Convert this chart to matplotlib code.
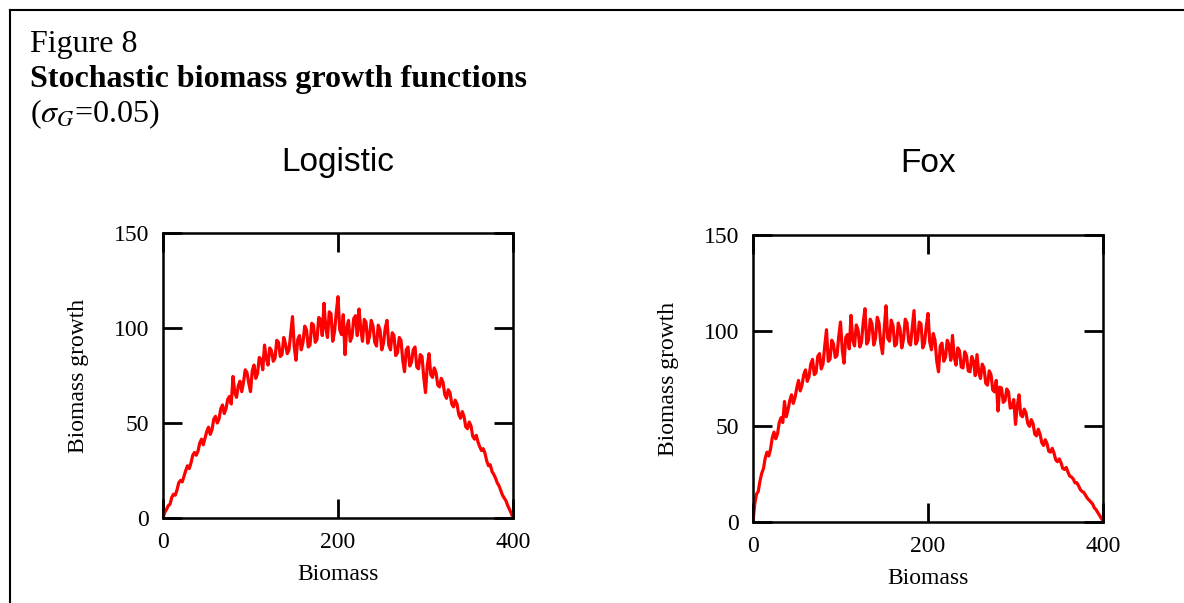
import matplotlib
matplotlib.use('Agg')
import matplotlib.pyplot as plt
import numpy as np

plt.rcParams['font.family'] = 'Liberation Serif'
plt.rcParams['mathtext.fontset'] = 'stix'

# biomass values (x axis), every 2 units
biomass = np.arange(0, 402, 2)

logistic_growth = [
    0.0, 3.0, 4.5, 6.5, 7.2, 10.8, 12.5, 12.0, 14.8, 18.5,
    19.8, 19.0, 22.0, 25.0, 27.5, 26.0, 29.0, 33.0, 34.5, 33.0,
    35.2, 39.5, 41.5, 38.5, 42.0, 45.5, 47.8, 44.0, 46.5, 52.0,
    53.5, 50.0, 52.0, 57.5, 59.5, 55.0, 57.5, 62.5, 64.0, 60.0,
    74.5, 66.0, 63.5, 69.5, 72.0, 66.5, 71.5, 78.0, 76.5, 71.0,
    66.5, 77.5, 80.5, 73.5, 76.0, 84.5, 83.5, 78.0, 91.0, 84.0,
    80.5, 89.5, 88.0, 82.5, 84.0, 93.5, 92.5, 85.0, 86.0, 95.0,
    91.5, 86.5, 88.5, 97.5, 106.0, 90.0, 83.0, 94.0, 96.0, 88.5,
    92.5, 101.0, 99.0, 90.0, 91.0, 102.5, 101.5, 92.5, 94.0, 105.5,
    104.5, 96.0, 113.0, 100.0, 95.0, 108.5, 107.5, 93.0, 98.0, 108.0,
    116.5, 99.0, 96.5, 107.0, 86.0, 100.0, 104.0, 93.0, 95.5, 105.0,
    106.5, 96.0, 110.0, 99.5, 93.0, 104.5, 103.0, 92.0, 95.5, 104.0,
    101.0, 92.5, 90.5, 101.5, 99.0, 88.5, 92.0, 100.0, 104.0, 91.0,
    88.5, 97.5, 96.0, 85.5, 87.0, 95.0, 93.5, 83.0, 77.0, 88.5,
    90.0, 80.0, 82.0, 88.5, 90.0, 79.5, 78.5, 86.0, 85.0, 74.0,
    66.0, 80.0, 86.5, 75.5, 74.0, 79.0, 76.5, 70.0, 69.0, 73.5,
    71.5, 65.0, 63.0, 67.5, 66.0, 60.0, 58.5, 62.0, 60.0, 54.5,
    52.5, 56.0, 53.5, 48.0, 47.0, 50.5, 48.5, 43.0, 41.5, 43.5,
    40.0, 37.5, 35.5, 36.5, 34.0, 30.0, 27.5, 28.0, 24.5, 23.0,
    21.0, 18.5, 17.0, 14.5, 12.0, 10.5, 9.0, 6.5, 4.5, 2.5,
    0.0,
]

fox_growth = [
    0.0, 9.5, 14.5, 16.0, 21.5, 25.5, 28.0, 33.5, 36.5, 34.5,
    38.0, 44.0, 47.0, 43.5, 46.0, 52.0, 54.5, 52.0, 63.0, 55.0,
    58.5, 63.5, 66.5, 62.0, 65.0, 70.0, 74.0, 68.5, 71.5, 77.0,
    79.5, 73.5, 76.0, 82.5, 85.0, 77.0, 78.0, 86.5, 88.0, 80.0,
    82.5, 92.0, 100.5, 84.0, 85.0, 95.0, 93.0, 86.0, 87.0, 97.0,
    104.5, 90.0, 83.0, 96.5, 98.0, 90.5, 108.0, 95.0, 92.0, 103.0,
    100.5, 91.5, 94.0, 104.5, 111.5, 93.0, 95.0, 106.0, 103.5, 92.5,
    96.0, 107.0, 104.0, 93.5, 88.0, 101.0, 113.0, 96.0, 94.5, 105.5,
    102.5, 92.0, 93.0, 104.0, 101.0, 91.0, 95.5, 106.0, 104.0, 94.0,
    92.5, 101.5, 110.5, 93.0, 95.0, 104.5, 103.5, 91.0, 93.5, 102.0,
    109.0, 94.0, 90.0, 98.5, 95.0, 84.0, 78.5, 92.0, 93.5, 84.0,
    86.0, 95.0, 92.5, 84.5, 97.5, 86.0, 82.0, 91.0, 89.5, 81.0,
    80.5, 89.0, 87.0, 79.0, 78.5, 86.5, 84.0, 76.5, 87.5, 78.0,
    75.0, 82.5, 80.5, 72.5, 71.5, 79.0, 77.0, 69.0, 68.0, 74.0,
    58.0, 70.5, 70.0, 62.5, 63.5, 69.5, 68.0, 59.5, 60.0, 64.0,
    51.0, 60.5, 66.5, 56.0, 55.0, 59.0, 57.0, 51.5, 50.0, 53.5,
    51.5, 46.0, 45.0, 48.5, 46.0, 41.5, 40.0, 43.0, 41.0, 37.0,
    36.5, 38.5, 36.0, 32.5, 31.5, 33.0, 31.0, 28.0, 27.5, 28.5,
    26.0, 24.0, 23.5, 22.5, 20.5, 20.5, 19.0, 17.0, 16.0, 15.5,
    14.0, 12.5, 11.5, 10.5, 9.5, 7.5, 6.5, 5.0, 3.5, 2.0,
    0.5,
]

panel_titles = ['Logistic', 'Fox']

fig = plt.figure(figsize=(11.84, 6.03), dpi=100)

# frame lines on left and top of the page
fig.add_artist(plt.Line2D([10 / 1184, 10 / 1184], [0, 1 - 10 / 603], color='black', lw=1.5))
fig.add_artist(plt.Line2D([10 / 1184, 1], [1 - 10 / 603, 1 - 10 / 603], color='black', lw=1.5))

fig.text(30 / 1184, 1 - 52 / 603, 'Figure 8', fontsize=23, va='baseline')
fig.text(30 / 1184, 1 - 87 / 603, 'Stochastic biomass growth functions', fontsize=23,
         fontweight='bold', va='baseline')
fig.text(30 / 1184, 1 - 122 / 603, r'($\sigma_G$=0.05)', fontsize=23, va='baseline')

ax1 = fig.add_axes([163 / 1184, 85 / 603, 350 / 1184, 285 / 603])
ax2 = fig.add_axes([753 / 1184, 81 / 603, 350 / 1184, 287 / 603])

for ax, growth, title in zip([ax1, ax2], [logistic_growth, fox_growth], panel_titles):
    ax.plot(biomass, growth, color='red', lw=2.3)
    ax.set_xlim(0, 400)
    ax.set_ylim(0, 150)
    ax.set_xticks([0, 200, 400])
    ax.set_yticks([0, 50, 100, 150])
    ax.tick_params(direction='in', length=14, width=2, top=True, right=True,
                   labelsize=17, pad=10)
    for sp in ax.spines.values():
        sp.set_linewidth(1.8)
    ax.set_xlabel('Biomass', fontsize=17, labelpad=8)
    ax.set_ylabel('Biomass growth', fontsize=17, labelpad=18)
    ax.set_title(title, fontsize=24, family='Liberation Sans', pad=45)

fig.savefig('out.png', dpi=100)
